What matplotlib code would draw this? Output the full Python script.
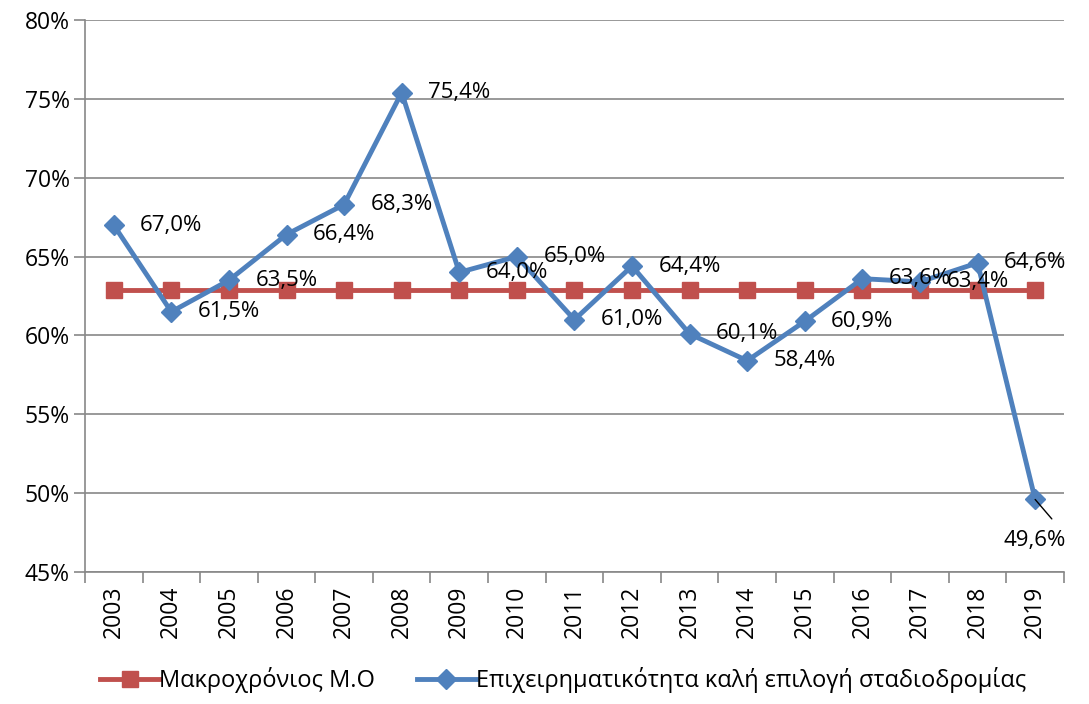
import matplotlib.pyplot as plt
import numpy as np

years = ['2003', '2004', '2005', '2006', '2007', '2008', '2009', '2010', '2011',
         '2012', '2013', '2014', '2015', '2016', '2017', '2018', '2019']
business = [67.0, 61.5, 63.5, 66.4, 68.3, 75.4, 64.0, 65.0, 61.0,
            64.4, 60.1, 58.4, 60.9, 63.6, 63.4, 64.6, 49.6]
long_avg = [62.9] * len(years)

plt.rcParams['font.family'] = ['Open Sans', 'DejaVu Sans']

fig = plt.figure(figsize=(10.89, 7.04), dpi=100)
ax = fig.add_axes([0.078, 0.1875, 0.899, 0.784])

x = np.arange(len(years))
ax.plot(x, long_avg, color='#C0504D', lw=3.5, marker='s', ms=12,
        label='Μακροχρόνιος Μ.Ο', zorder=3)
ax.plot(x, business, color='#4F81BD', lw=3.5, marker='D', ms=10,
        label='Επιχειρηματικότητα καλή επιλογή σταδιοδρομίας', zorder=4)

for i, v in enumerate(business):
    txt = f'{v:.1f}%'.replace('.', ',')
    if i == len(years) - 1:
        # leader line pointing down-right, label below
        ax.annotate('', xy=(i, v), xytext=(12, -14), textcoords='offset points',
                    arrowprops=dict(arrowstyle='-', color='black', lw=1,
                                    shrinkA=0, shrinkB=0), zorder=5)
        ax.text(i, v - 2.6, txt, ha='center', va='center', fontsize=16, zorder=5)
    else:
        ax.text(i + 1, v, txt, ha='center', va='center', fontsize=16, zorder=5)

ax.set_xlim(-0.5, len(years) - 0.5)
ax.set_ylim(45, 80)
ax.set_yticks(np.arange(45, 81, 5))
ax.set_yticklabels([f'{t}%' for t in range(45, 81, 5)], fontsize=16.5)
ax.set_xticks(x)
ax.set_xticklabels(years, rotation=90, fontsize=16.5)
ax.set_xticks(np.arange(-0.5, len(years), 1), minor=True)
ax.tick_params(axis='x', which='major', length=0, pad=10)
ax.tick_params(axis='x', which='minor', length=8, color='#888888', width=1.2)
ax.tick_params(axis='y', length=8, color='#888888', width=1.2, pad=3)
ax.grid(axis='y', color='#888888', lw=1.2)
ax.set_axisbelow(True)
for s in ['top', 'right']:
    ax.spines[s].set_visible(False)
for s in ['left', 'bottom']:
    ax.spines[s].set_color('#888888')
    ax.spines[s].set_linewidth(1.2)

fig.legend(loc='lower center', bbox_to_anchor=(0.517, -0.015), ncol=2, frameon=False,
           fontsize=17, handlelength=2.5, columnspacing=1.75, handletextpad=0.0)

fig.savefig('out.png', dpi=100)
